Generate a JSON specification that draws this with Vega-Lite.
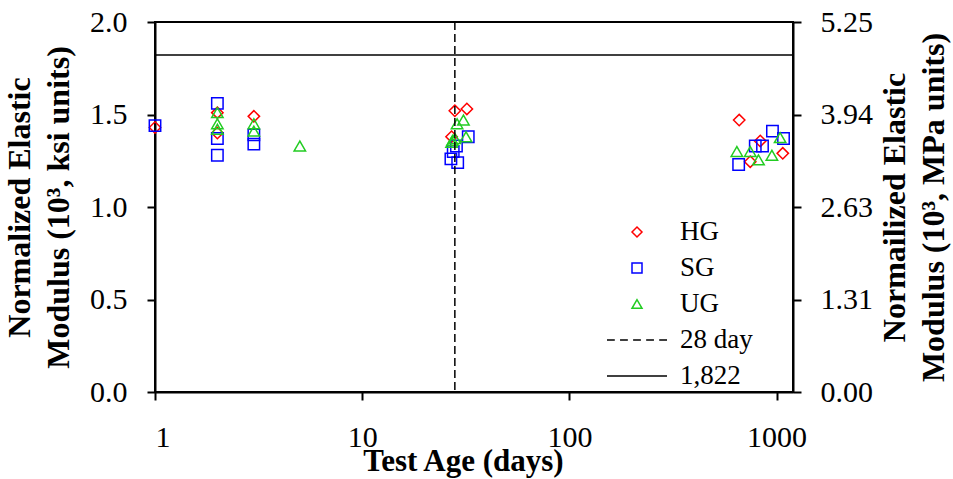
{
  "$schema": "https://vega.github.io/schema/vega-lite/v6.json",
  "width": 638,
  "height": 370,
  "autosize": {"type": "none"},
  "padding": {"left": 155, "top": 22, "right": 160, "bottom": 87},
  "background": "white",
  "config": {
    "font": "Liberation Serif",
    "view": {"stroke": "black", "strokeWidth": 2},
    "axis": {
      "domainColor": "black", "domainWidth": 2,
      "tickColor": "black", "tickWidth": 2, "tickSize": 8,
      "labelFont": "Liberation Serif", "labelFontSize": 30, "labelColor": "black",
      "titleFont": "Liberation Serif", "titleFontSize": 32, "titleFontWeight": "bold", "titleColor": "black",
      "grid": false
    },
    "legend": {
      "orient": "none", "legendX": 468.5, "legendY": 196.5,
      "padding": 0, "labelFont": "Liberation Serif", "labelFontSize": 27, "labelColor": "black",
      "symbolSize": 100, "symbolStrokeWidth": 1.5, "labelOffset": 29.5, "rowPadding": 8
    }
  },
  "layer": [
    {
      "layer": [
        {
          "data": {
            "values": [
              {"age": 1, "E": 1.43, "group": "HG"},
              {"age": 2, "E": 1.51, "group": "HG"},
              {"age": 2, "E": 1.40, "group": "HG"},
              {"age": 3, "E": 1.49, "group": "HG"},
              {"age": 27, "E": 1.38, "group": "HG"},
              {"age": 28, "E": 1.52, "group": "HG"},
              {"age": 32, "E": 1.53, "group": "HG"},
              {"age": 660, "E": 1.47, "group": "HG"},
              {"age": 746, "E": 1.245, "group": "HG"},
              {"age": 834, "E": 1.357, "group": "HG"},
              {"age": 1071, "E": 1.29, "group": "HG"},
              {"age": 1, "E": 1.44, "group": "SG"},
              {"age": 2, "E": 1.56, "group": "SG"},
              {"age": 2, "E": 1.37, "group": "SG"},
              {"age": 2, "E": 1.28, "group": "SG"},
              {"age": 3, "E": 1.39, "group": "SG"},
              {"age": 3, "E": 1.34, "group": "SG"},
              {"age": 26.8, "E": 1.26, "group": "SG"},
              {"age": 28.9, "E": 1.24, "group": "SG"},
              {"age": 27.5, "E": 1.30, "group": "SG"},
              {"age": 28.5, "E": 1.33, "group": "SG"},
              {"age": 32.5, "E": 1.38, "group": "SG"},
              {"age": 656, "E": 1.23, "group": "SG"},
              {"age": 789, "E": 1.33, "group": "SG"},
              {"age": 855, "E": 1.33, "group": "SG"},
              {"age": 955, "E": 1.41, "group": "SG"},
              {"age": 1080, "E": 1.37, "group": "SG"},
              {"age": 2, "E": 1.51, "group": "UG"},
              {"age": 2, "E": 1.45, "group": "UG"},
              {"age": 2, "E": 1.42, "group": "UG"},
              {"age": 3, "E": 1.45, "group": "UG"},
              {"age": 3, "E": 1.41, "group": "UG"},
              {"age": 5, "E": 1.33, "group": "UG"},
              {"age": 27, "E": 1.35, "group": "UG"},
              {"age": 27.3, "E": 1.36, "group": "UG"},
              {"age": 28, "E": 1.37, "group": "UG"},
              {"age": 28.7, "E": 1.45, "group": "UG"},
              {"age": 30.8, "E": 1.47, "group": "UG"},
              {"age": 31.7, "E": 1.38, "group": "UG"},
              {"age": 643, "E": 1.30, "group": "UG"},
              {"age": 746, "E": 1.30, "group": "UG"},
              {"age": 818, "E": 1.255, "group": "UG"},
              {"age": 949, "E": 1.28, "group": "UG"},
              {"age": 1040, "E": 1.375, "group": "UG"}
            ]
          },
          "mark": {"type": "point", "filled": false, "size": 130, "strokeWidth": 1.5, "opacity": 1},
          "encoding": {
            "x": {
              "field": "age", "type": "quantitative",
              "scale": {"type": "log", "domain": [1, 1200], "nice": false},
              "axis": {"values": [1, 10, 100, 1000], "format": "d", "title": "Test Age (days)", "titleX": 308, "titleFontSize": 31, "labelPadding": 22, "titlePadding": -6}
            },
            "y": {
              "field": "E", "type": "quantitative",
              "scale": {"domain": [0, 2], "nice": false},
              "axis": {"values": [0, 0.5, 1, 1.5, 2], "format": ".1f", "title": ["Normalized Elastic", "Modulus (10³, ksi units)"], "titleLineHeight": 39, "labelPadding": 20, "titlePadding": 14}
            },
            "color": {
              "field": "group", "type": "nominal",
              "scale": {"domain": ["HG", "SG", "UG", "28 day", "1,822"], "range": ["#ff0000", "#0000ff", "#22cc22", "black", "black"]},
              "legend": {"title": null}
            },
            "shape": {
              "field": "group", "type": "nominal",
              "scale": {"domain": ["HG", "SG", "UG", "28 day", "1,822"], "range": ["diamond", "square", "triangle-up", "M-6,0H-4.44M-3.39,0H-1.83M-0.78,0H0.78M1.83,0H3.39M4.44,0H6", "M-6,0H6"]},
              "legend": {"title": null}
            }
          }
        },
        {
          "data": {"values": [{}]},
          "mark": {"type": "rule", "strokeDash": [8, 4], "color": "black", "strokeWidth": 1.5},
          "encoding": {"x": {"datum": 28, "type": "quantitative"}}
        },
        {
          "data": {"values": [{}]},
          "mark": {"type": "rule", "color": "black", "strokeWidth": 1.5},
          "encoding": {"y": {"datum": 1.822, "type": "quantitative"}}
        }
      ]
    },
    {
      "data": {"values": [{}]},
      "mark": {"type": "rule", "opacity": 0},
      "encoding": {
        "y": {
          "datum": 0, "type": "quantitative",
          "scale": {"domain": [0, 5.25], "nice": false},
          "axis": {"orient": "right", "values": [0, 1.3125, 2.625, 3.9375, 5.25], "format": ".2f", "title": ["Normailized Elastic", "Modulus (10³, MPa units)"], "titleAngle": 270, "titleLineHeight": 39, "labelPadding": 19, "titlePadding": 0}
        }
      }
    }
  ],
  "resolve": {"scale": {"y": "independent"}}
}
